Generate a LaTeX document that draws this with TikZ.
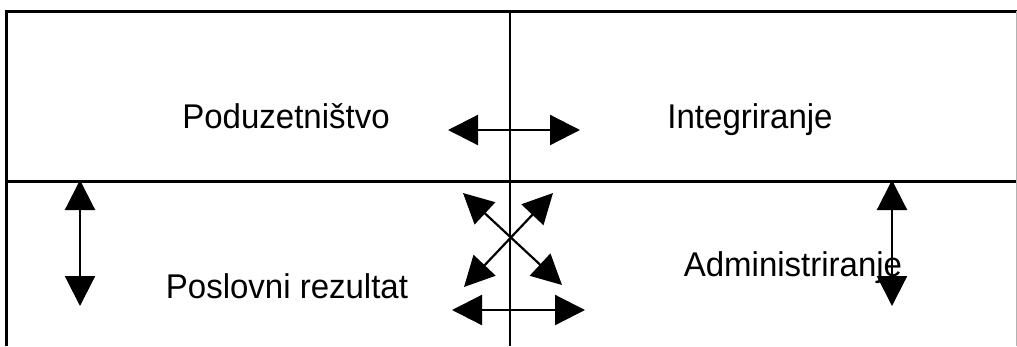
\documentclass[tikz,border=0pt]{standalone}
\usepackage{fontspec}
\setmainfont{Liberation Sans}
\usetikzlibrary{arrows.meta}
\tikzset{
  frameline/.style={line width=3pt, black},
  divider/.style={line width=2.5pt, black},
  label/.style={font=\fontsize{33}{38}\selectfont, anchor=base, inner sep=0pt, yscale=1.04},
  twoway/.style={line width=2.2pt, {Triangle[length=30pt,width=30pt]}-{Triangle[length=30pt,width=30pt]}},
}
\begin{document}
\begin{tikzpicture}[x=1pt,y=-1pt]
  \useasboundingbox (0,0) rectangle (1017,346);
  \fill[white] (0,0) rectangle (1017,346);

  % grid of the four fields
  \coordinate (tl) at (6,11);
  \coordinate (tr) at (1017,11);
  \coordinate (bl) at (6,346);
  \coordinate (ml) at (6,181);
  \coordinate (mr) at (1017,181);
  \coordinate (vt) at (510,11);
  \coordinate (vb) at (510,346);
  \draw[frameline] (bl) -- (tl) -- (tr);
  \draw[frameline] (ml) -- (mr);
  \draw[divider] (vt) -- (vb);
  \draw[gray!60, line width=1pt] (1016,11) -- (1016,346);

  % field names
  \node[label] (pod) at (286,128) {Poduzetništvo};
  \node[label] (int) at (750,128) {Integriranje};
  \node[label] (pos) at (287,298) {Poslovni rezultat};
  \node[label] (adm) at (793,276) {Administriranje};

  % arrow end points
  \coordinate (hTl) at (448,130);
  \coordinate (hTr) at (580,130);
  \coordinate (hBl) at (452,310);
  \coordinate (hBr) at (585,310);
  \coordinate (vLt) at (80,180);
  \coordinate (vLb) at (80,306);
  \coordinate (vRt) at (892,180);
  \coordinate (vRb) at (892,306);
  \coordinate (dNW) at (463,193);
  \coordinate (dSE) at (562,285);
  \coordinate (dNE) at (553,193);
  \coordinate (dSW) at (464,287);

  % relations between the fields
  \draw[twoway] (hTl) -- (hTr);
  \draw[twoway] (hBl) -- (hBr);
  \draw[twoway] (vLt) -- (vLb);
  \draw[twoway] (vRt) -- (vRb);
  \draw[twoway] (dNW) -- (dSE);
  \draw[twoway] (dNE) -- (dSW);
\end{tikzpicture}
\end{document}
